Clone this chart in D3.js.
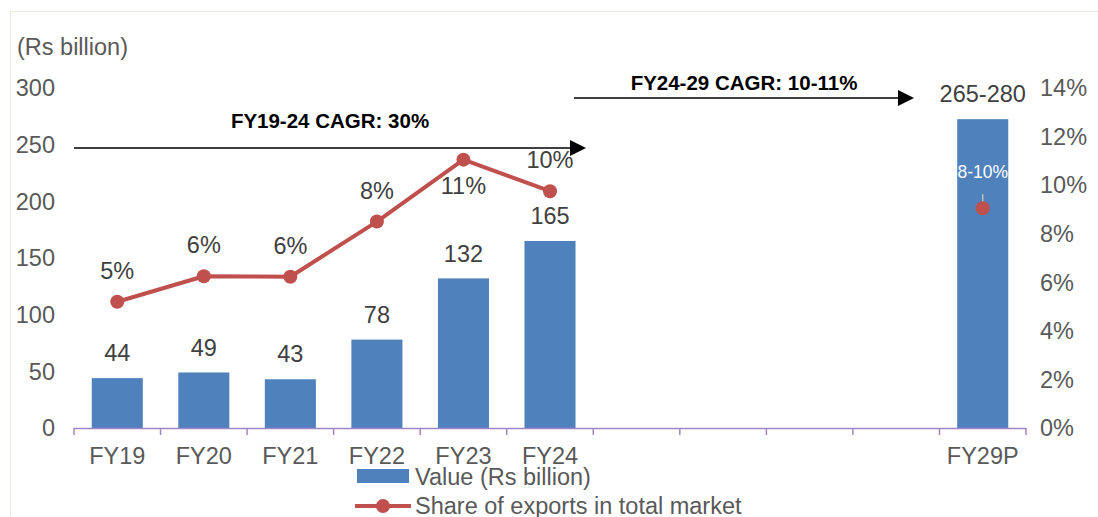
<!DOCTYPE html>
<html><head><meta charset="utf-8">
<script src="https://cdn.jsdelivr.net/npm/d3@7"></script>
<style>body{margin:0;background:#fff;} svg{display:block;font-family:"Liberation Sans",Arial,sans-serif;}</style>
</head><body>
<script>
const categories = ["FY19","FY20","FY21","FY22","FY23","FY24","g1","g2","g3","g4","FY29P"];
const tickLabels = ["FY19","FY20","FY21","FY22","FY23","FY24","","","","","FY29P"];
const values = [44,49,43,78,132,165,null,null,null,null,272.5];
const valueLabels = ["44","49","43","78","132","165","","","","","265-280"];
const shareCats = ["FY19","FY20","FY21","FY22","FY23","FY24"];
const shares = [5.2,6.25,6.23,8.5,11.05,9.75];
const shareLabels = ["5%","6%","6%","8%","11%","10%"];
const projCat = "FY29P";
const projShare = 9.05;
const projLabel = "8-10%";
const leftTicks = [0,50,100,150,200,250,300];
const rightTicks = [0,2,4,6,8,10,12,14];

const W=1098,H=517;
const FS="23.5px";
const svg=d3.select("body").append("svg").attr("width",W).attr("height",H);
svg.append("rect").attr("x",10.5).attr("y",11.5).attr("width",W).attr("height",H).attr("fill","none").attr("stroke","#ecebe0");

const x=d3.scaleBand().domain(categories).range([74,1026]).paddingInner(0.41).paddingOuter(0.205);
const y=d3.scaleLinear().domain([0,300]).range([428,88]);
const y2=d3.scaleLinear().domain([0,14]).range([428,88]);

svg.append("g").selectAll("text").data(leftTicks).join("text")
 .attr("x",55).attr("y",d=>y(d)).attr("dy","0.35em").attr("text-anchor","end")
 .attr("fill","#595959").style("font-size",FS).text(d=>d);
svg.append("g").selectAll("text").data(rightTicks).join("text")
 .attr("x",1040).attr("y",d=>y2(d)).attr("dy","0.35em").attr("text-anchor","start")
 .attr("fill","#595959").style("font-size",FS).text(d=>d+"%");
svg.append("text").attr("x",17).attr("y",47).attr("dy","0.35em").attr("fill","#595959").style("font-size",FS).text("(Rs billion)");

const bd=categories.map((c,i)=>({c,v:values[i],l:valueLabels[i]})).filter(d=>d.v!=null);
svg.append("g").selectAll("rect").data(bd).join("rect")
 .attr("x",d=>x(d.c)).attr("width",x.bandwidth()).attr("y",d=>y(d.v)).attr("height",d=>y(0)-y(d.v)).attr("fill","#4f81bd");
svg.append("g").selectAll("text").data(bd).join("text")
 .attr("x",d=>x(d.c)+x.bandwidth()/2).attr("y",d=>y(d.v)-25).attr("dy","0.35em").attr("text-anchor","middle")
 .attr("fill","#404040").style("font-size",FS).text(d=>d.l);

const xa=svg.append("g");
xa.append("line").attr("x1",74).attr("x2",1026).attr("y1",428.5).attr("y2",428.5).attr("stroke","#9e86c6").attr("stroke-width",1.5);
const step=x.step();
const bounds=d3.range(categories.length+1).map(i=>74+i*step);
xa.selectAll("line.t").data(bounds).join("line").attr("class","t")
 .attr("x1",d=>d).attr("x2",d=>d).attr("y1",428).attr("y2",435).attr("stroke","#9e86c6").attr("stroke-width",1.5);
xa.selectAll("text").data(categories).join("text")
 .attr("x",d=>x(d)+x.bandwidth()/2).attr("y",456).attr("dy","0.35em").attr("text-anchor","middle")
 .attr("fill","#595959").style("font-size",FS).text((d,i)=>tickLabels[i]);

const cx=c=>x(c)+x.bandwidth()/2;
const ld=shareCats.map((c,i)=>({c,v:shares[i],l:shareLabels[i]}));
svg.append("path").datum(ld).attr("fill","none").attr("stroke","#c0504d").attr("stroke-width",4).attr("stroke-linejoin","round")
 .attr("d",d3.line().x(d=>cx(d.c)).y(d=>y2(d.v)));
svg.append("g").selectAll("circle").data(ld).join("circle").attr("cx",d=>cx(d.c)).attr("cy",d=>y2(d.v)).attr("r",7).attr("fill","#c0504d");
svg.append("g").selectAll("text").data(ld).join("text")
 .attr("x",d=>cx(d.c)).attr("y",d=>d.c==="FY23"?y2(d.v)+26:y2(d.v)-31).attr("dy","0.35em").attr("text-anchor","middle")
 .attr("fill","#404040").style("font-size",FS).text(d=>d.l);
svg.append("line").attr("x1",cx(projCat)).attr("x2",cx(projCat)).attr("y1",y2(projShare)-14).attr("y2",y2(projShare)-3).attr("stroke","#bfbfbf").attr("stroke-width",1.5);
svg.append("circle").attr("cx",cx(projCat)).attr("cy",y2(projShare)).attr("r",7).attr("fill","#c0504d");
svg.append("text").attr("x",cx(projCat)).attr("y",y2(projShare)-36).attr("dy","0.35em").attr("text-anchor","middle")
 .attr("fill","#ffffff").style("font-size","17.5px").text(projLabel);

function arrow(x1,x2,yy,label,ly){
  svg.append("line").attr("x1",x1).attr("x2",x2-14).attr("y1",yy).attr("y2",yy).attr("stroke","#000").attr("stroke-width",1.5);
  svg.append("path").attr("d",`M${x2-16},${yy-8}L${x2},${yy}L${x2-16},${yy+8}Z`).attr("fill","#000");
  svg.append("text").attr("x",(x1+x2)/2).attr("y",ly).attr("dy","0.35em").attr("text-anchor","middle").attr("font-weight","bold").style("font-size","20.5px").attr("fill","#000").text(label);
}
arrow(74,586,148,"FY19-24 CAGR: 30%",121);
arrow(574,914,98,"FY24-29 CAGR: 10-11%",83);

svg.append("rect").attr("x",357).attr("y",469).attr("width",52).attr("height",14).attr("fill","#4f81bd");
svg.append("text").attr("x",415).attr("y",477).attr("dy","0.35em").attr("fill","#595959").style("font-size",FS).text("Value (Rs billion)");
svg.append("line").attr("x1",355).attr("x2",411).attr("y1",506).attr("y2",506).attr("stroke","#c0504d").attr("stroke-width",4);
svg.append("circle").attr("cx",383).attr("cy",506).attr("r",7).attr("fill","#c0504d");
svg.append("text").attr("x",415).attr("y",506).attr("dy","0.35em").attr("fill","#595959").style("font-size",FS).text("Share of exports in total market");
</script>
</body></html>
